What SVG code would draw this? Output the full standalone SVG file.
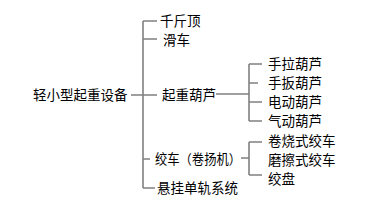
<svg xmlns="http://www.w3.org/2000/svg" width="373" height="202" viewBox="0 0 373 202">
<style>
text{font-family:"Noto Sans CJK SC","Noto Sans",sans-serif;font-size:13.5px;fill:#000}
.c{fill:none;stroke:#808080;stroke-width:1.6}
</style>
<rect width="373" height="202" fill="#fff"/>
<g id="connectors">
<path class="c" d="M131,95H157M143,21V188M143,21H157M143,39H157M143,159H150M143,188H155"/>
<path class="c" d="M216,94H249M249,64V121M249,64H262M249,83H258M249,102H262M249,121H262"/>
<path class="c" d="M241,158H249M249,142V175M249,142H262M249,175H262"/>
</g>
<g id="root"><text x="33" y="100">轻小型起重设备</text></g>
<g id="n1"><text x="160" y="26" font-size="13">千斤顶</text></g>
<g id="n2"><text x="163" y="45" font-size="13">滑车</text></g>
<g id="n3"><text x="162" y="100">起重葫芦</text></g>
<g id="n4"><text x="155" y="164" textLength="86" lengthAdjust="spacingAndGlyphs">绞车（卷扬机）</text></g>
<g id="n5"><text x="157" y="193">悬挂单轨系统</text></g>
<g id="n31"><text x="268" y="69">手拉葫芦</text></g>
<g id="n32"><text x="268" y="88">手扳葫芦</text></g>
<g id="n33"><text x="268" y="107">电动葫芦</text></g>
<g id="n34"><text x="268" y="126">气动葫芦</text></g>
<g id="n41"><text x="268" y="146">卷烧式绞车</text></g>
<g id="n42"><text x="268" y="165">磨擦式绞车</text></g>
<g id="n43"><text x="268" y="184">绞盘</text></g>
</svg>
